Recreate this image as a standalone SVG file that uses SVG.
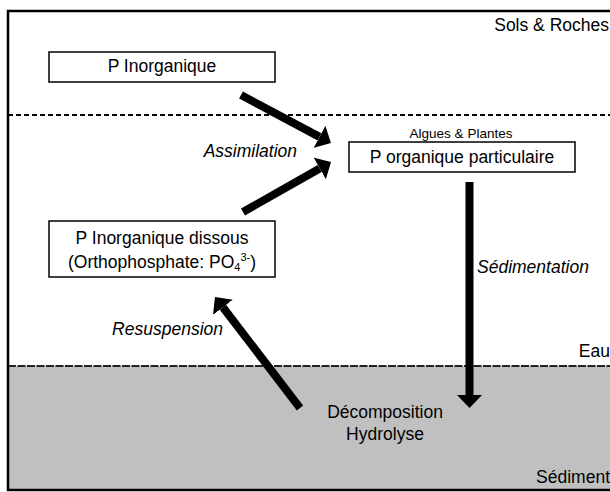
<svg xmlns="http://www.w3.org/2000/svg" width="610" height="492" viewBox="0 0 610 492">
<style>
text{font-family:"Liberation Sans",Arial,sans-serif;font-size:17.5px;fill:#000}
.it{font-style:italic}
.box{fill:#fff;stroke:#000;stroke-width:1.5}
.arr{stroke:#000;stroke-width:8;fill:none;marker-end:url(#ah)}
</style>
<defs>
<marker id="ah" viewBox="0 0 13 25" refX="0" refY="12.5" markerWidth="13" markerHeight="25" markerUnits="userSpaceOnUse" orient="auto">
<path d="M0,0 L13,12.5 L0,25 Z" fill="#000"/>
</marker>
</defs>
<g id="background">
<rect x="8" y="11" width="620" height="479" fill="#fff" stroke="none"/>
<rect x="8" y="366" width="620" height="124" fill="#c0c0c0"/>
<line x1="8" y1="115" x2="610" y2="115" stroke="#000" stroke-width="2" stroke-dasharray="5 3"/>
<line x1="8" y1="366" x2="610" y2="366" stroke="#222" stroke-width="2" stroke-dasharray="8 1.5"/>
<path d="M620,11 H8 V490 H620" fill="none" stroke="#000" stroke-width="2.5"/>
<text x="609" y="31" text-anchor="end">Sols &amp; Roches</text>
<text x="610" y="357" text-anchor="end">Eau</text>
<text x="610" y="483" text-anchor="end">Sédiment</text>
</g>
<g id="p-inorganique">
<rect class="box" x="49" y="52" width="226" height="30"/>
<text x="162" y="72" text-anchor="middle">P Inorganique</text>
</g>
<g id="p-organique">
<text x="461" y="138" text-anchor="middle" style="font-size:13.5px">Algues &amp; Plantes</text>
<rect class="box" x="349" y="142" width="226" height="30"/>
<text x="462" y="163" text-anchor="middle">P organique particulaire</text>
</g>
<g id="p-dissous">
<rect class="box" x="49" y="221" width="226" height="56"/>
<text x="162" y="244" text-anchor="middle">P Inorganique dissous</text>
<text x="162" y="268" text-anchor="middle">(Orthophosphate: PO<tspan style="font-size:11px" dy="3">4</tspan><tspan style="font-size:11px" dy="-10">3-</tspan><tspan dy="7">)</tspan></text>
</g>
<g id="decomposition">
<text x="385" y="418" text-anchor="middle">Décomposition</text>
<text x="385" y="440" text-anchor="middle">Hydrolyse</text>
</g>
<g id="connectors">
<line class="arr" x1="241" y1="95" x2="319.5" y2="136.9"/>
<line class="arr" x1="243" y1="212" x2="319.7" y2="168.4"/>
<line class="arr" x1="469.5" y1="182" x2="469.5" y2="395"/>
<line class="arr" x1="300" y1="408" x2="222.9" y2="307.3"/>
<text class="it" x="297" y="157" text-anchor="end">Assimilation</text>
<text class="it" x="477" y="273">Sédimentation</text>
<text class="it" x="223" y="335" text-anchor="end">Resuspension</text>
</g>
</svg>
